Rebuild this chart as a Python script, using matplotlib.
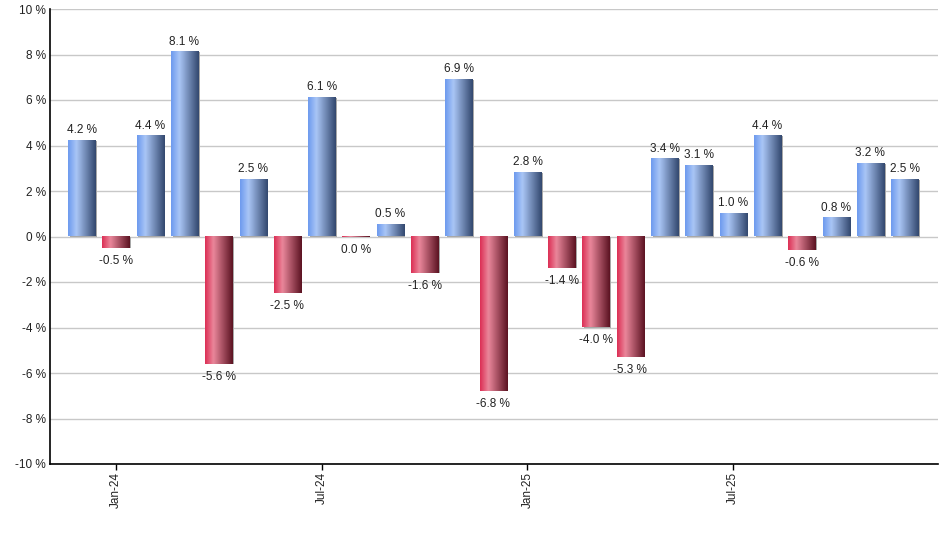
import matplotlib
matplotlib.use("Agg")
import matplotlib.pyplot as plt
from matplotlib.colors import LinearSegmentedColormap
from matplotlib.patches import Rectangle
import numpy as np
import pandas as pd

# Monthly returns, Dec-23 .. Dec-25
months = pd.date_range("2023-12-01", periods=25, freq="MS")
values = [4.2, -0.5, 4.4, 8.1, -5.6, 2.5, -2.5, 6.1, -0.04, 0.5, -1.6, 6.9,
          -6.8, 2.8, -1.4, -4.0, -5.3, 3.4, 3.1, 1.0, 4.4, -0.6, 0.8, 3.2, 2.5]
y_ticks = list(range(-10, 11, 2))

plt.rcParams['font.family'] = ['Liberation Sans', 'DejaVu Sans']

blue = LinearSegmentedColormap.from_list("blue", [(0, '#6d9aee'), (0.3, '#aac6f6'), (1, '#33486f')])
red = LinearSegmentedColormap.from_list("red", [(0, '#dc2f55'), (0.3, '#ea879b'), (1, '#5c1322')])
grad = np.linspace(0, 1, 64).reshape(1, -1)

fig = plt.figure(figsize=(9.4, 5.5), dpi=100)
ax = fig.add_axes([50 / 940, 1 - 464 / 550, 888 / 940, 455 / 550])

width = 0.79
shadow = 1.6 / 34.3
for i, v in enumerate(values):
    x0 = i - width / 2
    ax.add_patch(Rectangle((x0 + shadow, 0), width, v, facecolor='#a8a8a8',
                           edgecolor='none', zorder=2))
    ax.imshow(grad, extent=[x0, x0 + width, 0, v], aspect='auto',
              cmap=blue if v >= 0 else red, zorder=3, interpolation='bicubic')
    txt = f"{v:.1f} %".replace("-0.0", "0.0")
    if v >= 0:
        ax.annotate(txt, (i, v), xytext=(0, 5.5), textcoords='offset points',
                    ha='center', va='baseline', fontsize=8.5, color='#222222')
    else:
        ax.annotate(txt, (i, v), xytext=(0, -5), textcoords='offset points',
                    ha='center', va='top', fontsize=8.5, color='#222222')

ax.set_xlim(-0.92, 24.97)
ax.set_ylim(-10, 10)
ax.set_yticks(y_ticks)
ax.set_yticklabels([f"{t} %" for t in y_ticks])
ax.grid(axis='y', color='#c8c8c8', linewidth=1, zorder=0)
ax.set_axisbelow(True)

tick_pos = [i for i, m in enumerate(months) if m.month in (1, 7)]
ax.set_xticks(tick_pos)
ax.set_xticklabels([months[i].strftime("%b-%y") for i in tick_pos], rotation=90)

ax.tick_params(axis='y', length=0, pad=3, labelsize=8.5, labelcolor='#222222')
ax.tick_params(axis='x', length=4, width=1, pad=2, labelsize=8.5, labelcolor='#222222')
for s in ['top', 'right']:
    ax.spines[s].set_visible(False)
ax.spines['left'].set_linewidth(1.2)
ax.spines['bottom'].set_linewidth(1.2)

fig.savefig("out.png", dpi=100)
